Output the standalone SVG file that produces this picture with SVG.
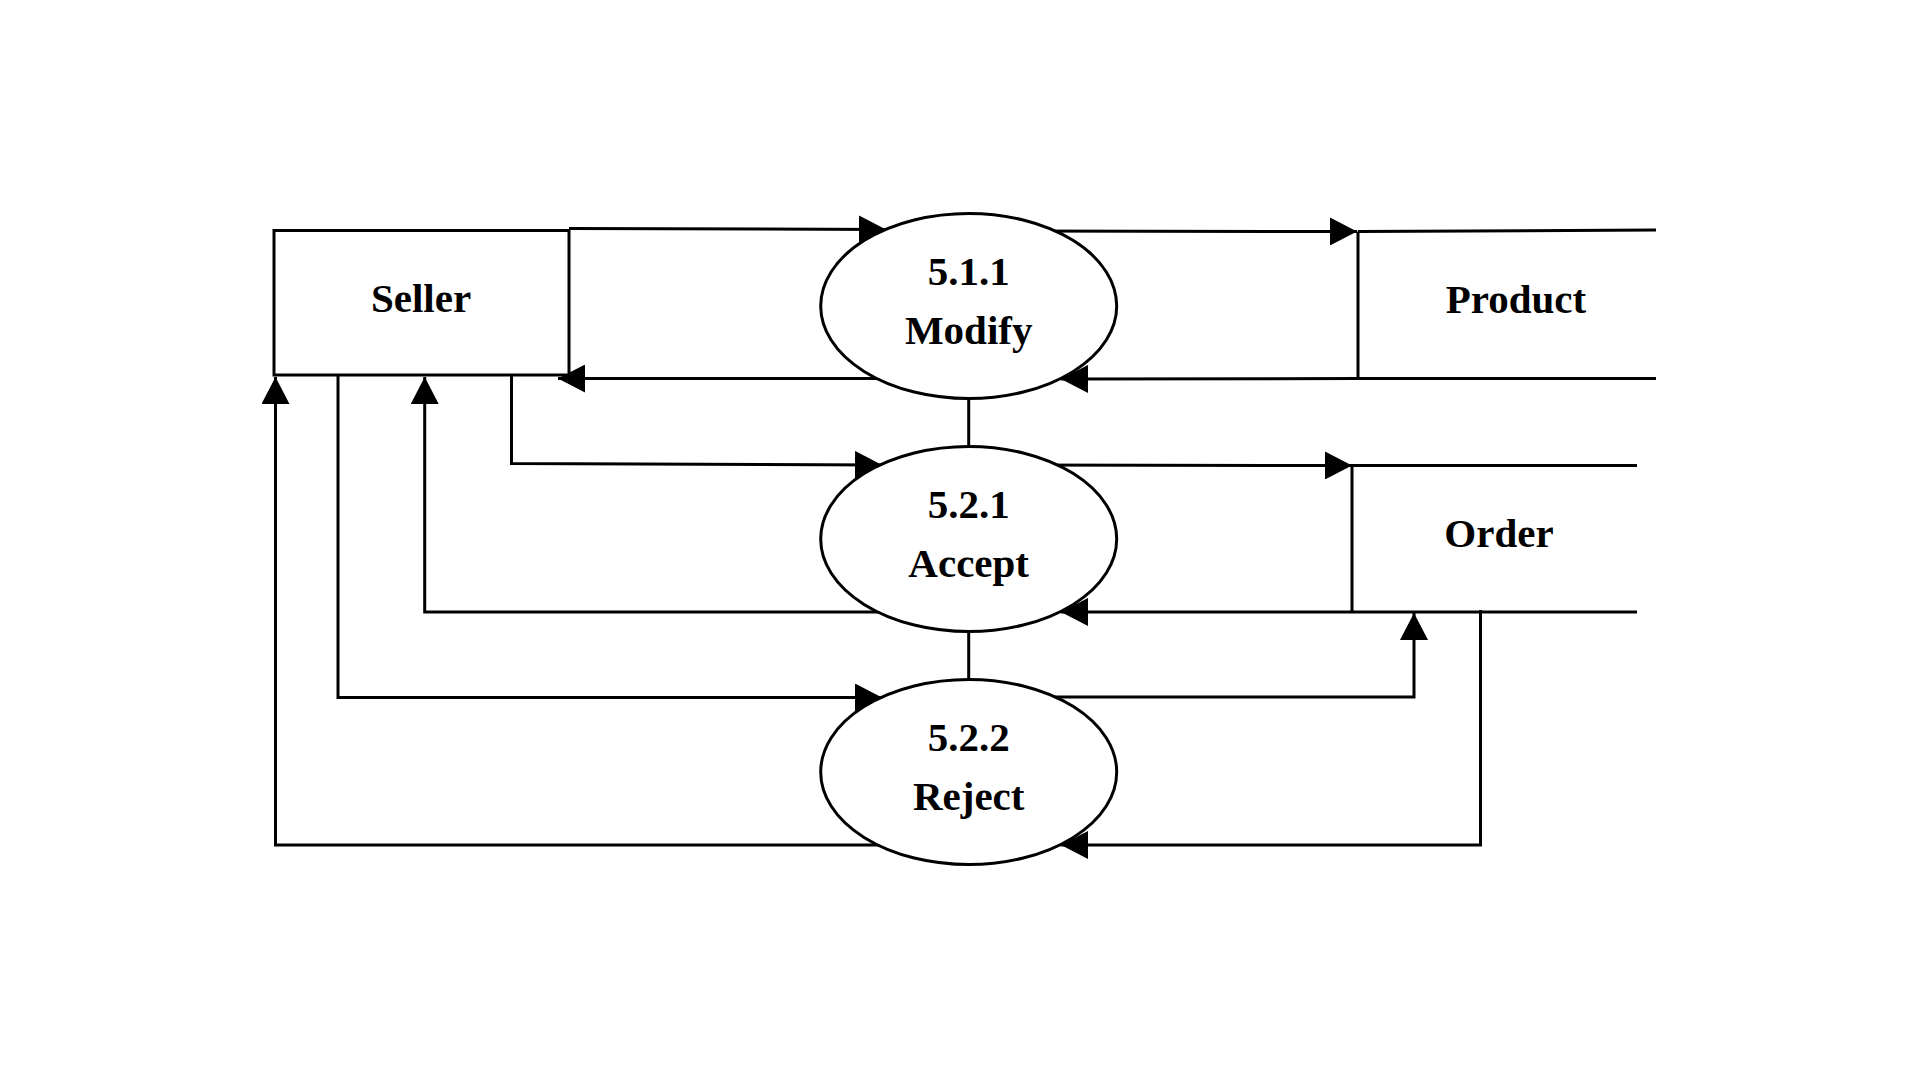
<svg xmlns="http://www.w3.org/2000/svg" width="1920" height="1080" viewBox="0 0 1920 1080">
  <style>
    .line { fill: none; stroke: #000; stroke-width: 3; }
    .flow { fill: none; stroke: #000; stroke-width: 3; marker-end: url(#arrow); }
    .proc { fill: #fff; stroke: #000; stroke-width: 3; }
    .box { fill: #fff; stroke: #000; stroke-width: 3; }
    .label { font-family: "Liberation Serif", "Times New Roman", serif; font-weight: bold; font-size: 41px; text-anchor: middle; fill: #000; }
  </style>
  <defs>
    <marker id="arrow" viewBox="0 0 27 28" refX="27" refY="14" markerWidth="27" markerHeight="28" markerUnits="userSpaceOnUse" orient="auto">
      <path d="M0,0 L27,14 L0,28 Z" fill="#000"/>
    </marker>
  </defs>
  <rect width="1920" height="1080" fill="#fff"/>

  <!-- data flows (drawn first so the process bubbles sit on top) -->
  <g id="connectors">
    <path class="flow" d="M569,228.5 L886,229.5"/>
    <path class="flow" d="M968,231 L1357,231.5"/>
    <path class="flow" d="M1358,378.5 L1061,379"/>
    <path class="flow" d="M968,378.5 L558,378.5"/>
    <path class="flow" d="M511.5,376 L511.5,463.5 L882,465"/>
    <path class="flow" d="M968,465 L1352,465.5"/>
    <path class="flow" d="M1352,612 L1061,612"/>
    <path class="flow" d="M968,612 L424.7,612 L424.7,377"/>
    <path class="flow" d="M338,376 L338,697.5 L882,697.5"/>
    <path class="flow" d="M968,697 L1414,697 L1414,613"/>
    <path class="flow" d="M1480.5,610 L1480.5,845 L1061,845"/>
    <path class="flow" d="M968,845 L275.5,845 L275.5,377"/>
    <path class="line" d="M968.7,398 L968.7,446"/>
    <path class="line" d="M968.7,631 L968.7,680"/>
  </g>

  <!-- external entity -->
  <g id="seller">
    <rect class="box" x="274" y="230.5" width="295" height="144.5"/>
    <text class="label" x="421" y="312">Seller</text>
  </g>

  <!-- data stores (open-ended) -->
  <g id="product">
    <path class="line" d="M1358,231.5 L1656,230 M1358,231.5 L1358,379 M1358,378.5 L1656,378.5"/>
    <text class="label" x="1516" y="313">Product</text>
  </g>
  <g id="order">
    <path class="line" d="M1352,465.5 L1637,465.5 M1352,465.5 L1352,612.5 M1352,612 L1637,612"/>
    <text class="label" x="1499" y="547">Order</text>
  </g>

  <!-- processes -->
  <g id="p511">
    <ellipse class="proc" cx="968.7" cy="306" rx="148" ry="92.5"/>
    <text class="label" x="968.7" y="285">5.1.1</text>
    <text class="label" x="968.7" y="344">Modify</text>
  </g>
  <g id="p521">
    <ellipse class="proc" cx="968.7" cy="539" rx="148" ry="92.5"/>
    <text class="label" x="968.7" y="518">5.2.1</text>
    <text class="label" x="968.7" y="577">Accept</text>
  </g>
  <g id="p522">
    <ellipse class="proc" cx="968.7" cy="772" rx="148" ry="92.5"/>
    <text class="label" x="968.7" y="751">5.2.2</text>
    <text class="label" x="968.7" y="810">Reject</text>
  </g>
</svg>
